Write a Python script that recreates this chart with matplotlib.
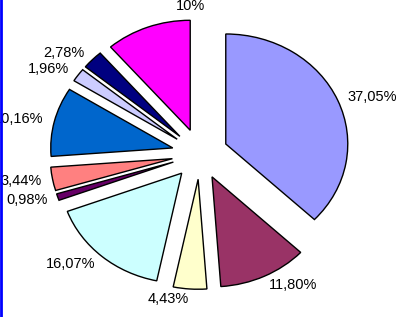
import matplotlib.pyplot as plt
from matplotlib.lines import Line2D

plt.rcParams['font.family'] = ['Liberation Sans', 'DejaVu Sans']

# --- Data (clockwise from 12 o'clock) ---
values = [37.05, 11.80, 4.43, 16.07, 0.98, 3.44, 10.16, 1.96, 2.78, 11.33]
labels = ['37,05%', '11,80%', '4,43%', '16,07%', '0,98%', '3,44%',
          '10,16%', '1,96%', '2,78%', '10%']
colors = ['#9999FF', '#993366', '#FFFFCC', '#CCFFFF', '#660066', '#FF8080',
          '#0066CC', '#CCCCFF', '#000080', '#FF00FF']

fig = plt.figure(figsize=(4.02, 3.17), dpi=100)
ax = fig.add_axes([0, 0, 1, 1])

wedges, texts = ax.pie(values, labels=labels, colors=colors,
                       explode=[0.23] * len(values), startangle=90,
                       counterclock=False, labeldistance=1.09,
                       wedgeprops=dict(edgecolor='black', linewidth=1.0),
                       textprops=dict(fontsize=10.5, color='black'))

# top label sits centred above its slice
top = wedges[-1]
texts[-1].set_position((top.center[0], top.center[1] + top.r * 1.13))
texts[-1].set_ha('center')

# stretched horizontally like the original
ax.set_aspect('auto')
ax.set_xlim(-200 / 122, 202 / 122)
ax.set_ylim(-163 / 110, 154 / 110)
ax.axis('off')

# blue border line on the left
fig.add_artist(Line2D([0.002, 0.002], [0, 1], color='#0000FF', linewidth=2,
                      transform=fig.transFigure))

fig.savefig('out.png', dpi=100)
